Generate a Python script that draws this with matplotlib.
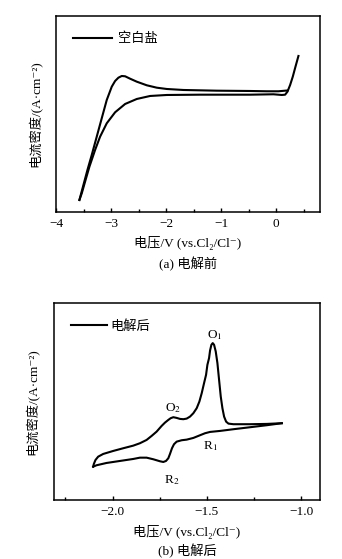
import matplotlib
matplotlib.use("Agg")
from matplotlib import pyplot as plt
from matplotlib.ticker import MultipleLocator

plt.rcParams['font.family'] = ['Liberation Serif', 'Noto Sans CJK SC', 'DejaVu Serif']

# (a) before electrolysis: blank salt CV, arbitrary current units
a_up_x = [-3.576, -3.503, -3.430, -3.352, -3.261, -3.170, -3.079, -2.988, -2.927,
          -2.867, -2.806, -2.745, -2.655, -2.533, -2.352, -2.170, -1.988, -1.685,
          -1.079, -0.473, -0.170, 0.042, 0.164, 0.206]
a_up_y = [12, 27, 42, 57, 75.3, 93.7, 112, 125.3, 131,
          134.3, 136, 135.7, 133.3, 130.3, 126.7, 124.3, 123, 122,
          121.3, 121, 120.7, 120.7, 121.3, 121.5]
a_lo_x = [-3.576, -3.533, -3.473, -3.394, -3.291, -3.2, -3.079, -2.927, -2.745,
          -2.533, -2.291, -1.988, -1.382, -0.473, -0.048, 0.103, 0.164, 0.206,
          0.255, 0.303, 0.352, 0.406]
a_lo_y = [12, 18.7, 30.3, 45.3, 62, 75.3, 88.7, 99.7, 108,
          113, 116, 117, 117.3, 117.3, 117.7, 117, 117.3, 120.3,
          127, 135.3, 145.3, 156]

# (b) after electrolysis
b_up_x = [-1.1027, -1.1823, -1.2708, -1.3593, -1.3858, -1.3982, -1.4088, -1.4177,
          -1.4265, -1.4354, -1.4442, -1.4531, -1.4619, -1.4690, -1.4761, -1.4832,
          -1.4885, -1.4973, -1.5044, -1.5150, -1.5274, -1.5398, -1.5540, -1.5717,
          -1.5894, -1.6071, -1.6248, -1.6425, -1.6602, -1.6779, -1.6920, -1.7044,
          -1.7221, -1.7398, -1.7664, -1.7929, -1.8195, -1.8549, -1.8903, -1.9434,
          -1.9965, -2.0496, -2.0761, -2.0903, -2.0991, -2.1027]
b_up_y = [76.7, 76, 75.7, 75.7, 76.3, 78.3, 83.3, 91.7,
          103.3, 120, 136.7, 148.3, 155, 156.7, 155, 149.3,
          141.7, 135, 125, 116.7, 106.7, 98.3, 91.7, 86.7,
          83.3, 81.3, 80.7, 81, 82, 82.7, 81.7, 80,
          77.3, 74, 68.3, 64, 60, 56.7, 54.3, 51.7,
          49, 46, 43.3, 40, 36, 33.3]
b_lo_x = [-2.1027, -2.0850, -2.0319, -1.9611, -1.8903, -1.8549, -1.8195, -1.7841,
          -1.7487, -1.7310, -1.7168, -1.7044, -1.6956, -1.6850, -1.6743, -1.6602,
          -1.6336, -1.6071, -1.5717, -1.5363, -1.5097, -1.4832, -1.4301, -1.3593,
          -1.2708, -1.1823, -1.1027]
b_lo_y = [33.3, 34.7, 37, 39, 41, 42.3, 42.3, 40.7,
          38.7, 38, 39, 41.7, 46, 51.7, 55.7, 58.3,
          59.7, 60.3, 62, 64.7, 66.7, 68, 69, 70.7,
          72.7, 74.7, 76.7]

b_labels = ['O$_1$', 'O$_2$', 'R$_1$', 'R$_2$']
b_label_x = [-1.457, -1.678, -1.480, -1.687]
b_label_y = [165, 91.7, 54, 20]

fig = plt.figure(figsize=(3.42, 5.59), dpi=100)
ax1 = fig.add_axes([0.164, 0.6208, 0.772, 0.3506])
ax2 = fig.add_axes([0.158, 0.1055, 0.778, 0.3524])

ylab = '电流密度/(A·cm⁻²)'
xlab = '电压/V (vs.Cl₂/Cl⁻)'
fs = 9.5

line_a, = ax1.plot(a_up_x, a_up_y, color='k', lw=1.5)
ax1.plot(a_lo_x, a_lo_y, color='k', lw=1.5)
ax1.set_xlim(-4, 0.8)
ax1.set_ylim(0, 196)
ax1.set_xticks([-4, -3, -2, -1, 0])
ax1.set_xticklabels(['−4', '−3', '−2', '−1', '0'])
ax1.xaxis.set_minor_locator(MultipleLocator(0.5))
ax1.legend([line_a], ['空白盐'], loc='upper left', frameon=False, fontsize=fs,
           handlelength=2.9, handletextpad=0.5, bbox_to_anchor=(0.02, 0.975))
ax1.text(0.5, -0.285, '(a) 电解前', transform=ax1.transAxes, ha='center', fontsize=fs)

line_b, = ax2.plot(b_up_x, b_up_y, color='k', lw=1.5)
ax2.plot(b_lo_x, b_lo_y, color='k', lw=1.5)
ax2.set_xlim(-2.31, -0.9)
ax2.set_ylim(0, 196.7)
ax2.set_xticks([-2.0, -1.5, -1.0])
ax2.set_xticklabels(['−2.0', '−1.5', '−1.0'])
ax2.xaxis.set_minor_locator(MultipleLocator(0.25))
for t, x, y in zip(b_labels, b_label_x, b_label_y):
    ax2.text(x, y, t, ha='center', va='center', fontsize=fs,
             math_fontfamily='stix')
ax2.legend([line_b], ['电解后'], loc='upper left', frameon=False, fontsize=fs,
           handlelength=2.7, handletextpad=0.3, bbox_to_anchor=(0.02, 0.975))
ax2.text(0.5, -0.28, '(b) 电解后', transform=ax2.transAxes, ha='center', fontsize=fs)

for ax in (ax1, ax2):
    ax.set_yticks([])
    ax.tick_params(axis='x', which='major', direction='in', length=3, width=1,
                   labelsize=fs, pad=4)
    ax.tick_params(axis='x', which='minor', direction='in', length=2, width=1)
    ax.set_xlabel(xlab, fontsize=fs, labelpad=5)
    ax.set_ylabel(ylab, fontsize=fs, labelpad=10)
    for s in ax.spines.values():
        s.set_linewidth(1.1)

fig.savefig('out.png', dpi=100)
